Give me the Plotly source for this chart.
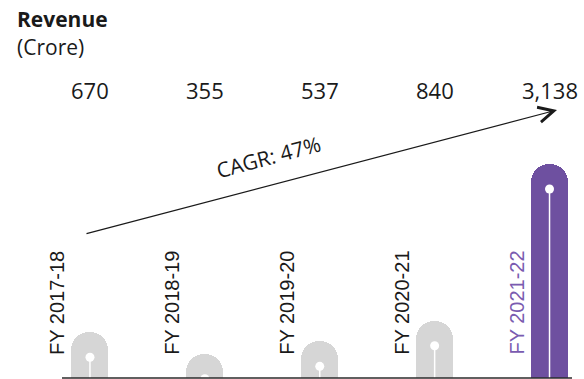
import plotly.graph_objects as go

# Revenue by fiscal year (Crore)
years = ["FY 2017-18", "FY 2018-19", "FY 2019-20", "FY 2020-21", "FY 2021-22"]
revenue = [670, 355, 537, 840, 3138]
value_labels = ["670", "355", "537", "840", "3,138"]
cagr_text = "CAGR: 47%"

W, H = 584, 379
GRAY = "#d6d6d6"
PURPLE = "#6e50a0"
bar_colors = [GRAY] * 4 + [PURPLE]
label_colors = ["#1a1a1a"] * 4 + ["#7a5bb0"]

# axis scaling: category spacing and revenue-to-pixel factor
x_range = [-0.783, 4.30]
units_per_px = 14.66
y_range = [-1 * units_per_px, (H - 1) * units_per_px]


def px_x(px):
    return x_range[0] + px / W * (x_range[1] - x_range[0])


def px_y(py):
    return y_range[1] - py / H * (y_range[1] - y_range[0])


def paper_y(py):
    return 1 - py / H


xs = list(range(len(years)))

fig = go.Figure()

fig.add_trace(go.Bar(
    x=xs, y=revenue, width=0.322,
    marker=dict(color=bar_colors, line=dict(width=0), cornerradius=19),
    hoverinfo="skip",
))

# white pin inside each bar: dot near the cap with a stem down to the base
dot_offset = 25 * units_per_px
for i, v in enumerate(revenue):
    top = v - dot_offset
    fig.add_trace(go.Scatter(
        x=[i, i], y=[0, top], mode="lines",
        line=dict(color="white", width=1.5), hoverinfo="skip",
    ))
fig.add_trace(go.Scatter(
    x=xs, y=[v - dot_offset for v in revenue], mode="markers",
    marker=dict(color="white", size=9, line=dict(width=0)), hoverinfo="skip",
))

# baseline
fig.add_shape(type="line", xref="x", yref="y",
              x0=px_x(62), x1=px_x(572), y0=0, y1=0,
              line=dict(color="#2b2b2b", width=1.5))

annotations = []
# value labels across the top
for i, t in enumerate(value_labels):
    annotations.append(dict(
        x=i, y=paper_y(90), xref="x", yref="paper", text=t, showarrow=False,
        xanchor="center", yanchor="middle",
        font=dict(family="Open Sans", size=22, color="#1a1a1a"),
    ))
# rotated year labels beside each bar
for i, t in enumerate(years):
    annotations.append(dict(
        x=i, y=paper_y(357), xref="x", yref="paper", text=t, showarrow=False,
        xanchor="center", yanchor="bottom", xshift=-33, textangle=-90,
        font=dict(family="Liberation Sans", size=20, color=label_colors[i]),
    ))
# growth arrow
annotations.append(dict(
    x=px_x(557), y=px_y(110), ax=px_x(85), ay=px_y(234),
    xref="x", yref="y", axref="x", ayref="y", text="",
    showarrow=True, arrowhead=5, arrowsize=2.5, arrowwidth=1.2,
    arrowcolor="#1a1a1a",
))
annotations.append(dict(
    x=px_x(268), y=px_y(157), xref="x", yref="y", text=cagr_text,
    showarrow=False, textangle=-15, xanchor="center", yanchor="middle",
    font=dict(family="Open Sans", size=21, color="#1a1a1a"),
))
# title
annotations.append(dict(
    x=px_x(15), y=paper_y(3), xref="x", yref="paper", text="<b>Revenue</b>",
    showarrow=False, xanchor="left", yanchor="top",
    font=dict(family="Open Sans", size=21, color="#1a1a1a"),
))
annotations.append(dict(
    x=px_x(15), y=paper_y(31), xref="x", yref="paper", text="(Crore)",
    showarrow=False, xanchor="left", yanchor="top",
    font=dict(family="Open Sans", size=21, color="#1a1a1a"),
))

fig.update_layout(
    width=W, height=H, margin=dict(l=0, r=0, t=0, b=0),
    paper_bgcolor="white", plot_bgcolor="white", showlegend=False,
    xaxis=dict(range=x_range, visible=False, fixedrange=True),
    yaxis=dict(range=y_range, visible=False, fixedrange=True),
    annotations=annotations, bargap=0,
)

fig.write_html("out.html", config={"displayModeBar": False})
